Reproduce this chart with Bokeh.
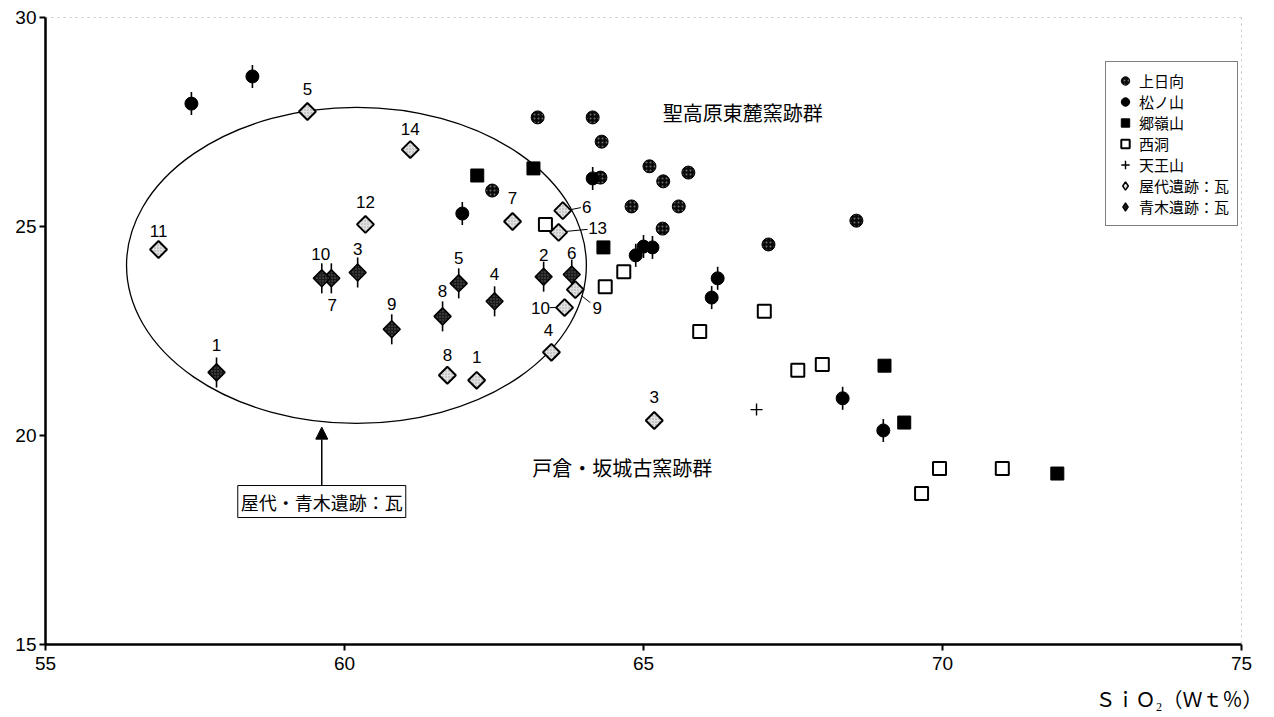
import math
from bokeh.plotting import figure
from bokeh.models import (ColumnDataSource, Range1d, FixedTicker, Legend, LegendItem,
                          Label, Arrow, NormalHead, Span, Title)
from bokeh.embed import file_html
from bokeh.resources import INLINE
from bokeh.core.properties import value

# ---------------- data ----------------
kamihinata_x = [63.23, 64.15, 64.30, 64.28, 65.10, 65.33, 65.75, 62.47, 64.80, 65.59, 65.32, 67.09, 68.56]
kamihinata_y = [27.61, 27.61, 27.03, 26.17, 26.44, 26.08, 26.29, 25.86, 25.48, 25.48, 24.95, 24.57, 25.14]

matsunoyama_x = [57.44, 58.46, 61.97, 64.15, 64.87, 65.00, 65.15, 66.24, 66.14, 68.33, 69.01]
matsunoyama_y = [27.94, 28.59, 25.31, 26.15, 24.31, 24.52, 24.50, 23.76, 23.30, 20.89, 20.12]

goreizan_x = [62.22, 63.16, 64.33, 69.03, 69.36, 71.92]
goreizan_y = [26.22, 26.39, 24.50, 21.67, 20.31, 19.09]

nishibora_x = [63.36, 64.36, 64.67, 65.94, 67.02, 67.58, 67.99, 69.95, 71.00, 69.65]
nishibora_y = [25.05, 23.56, 23.92, 22.49, 22.97, 21.56, 21.70, 19.21, 19.21, 18.61]

tennozan_x = [66.89]
tennozan_y = [20.62]

yashiro_no = ["1", "3", "4", "5", "6", "7", "8", "9", "10", "11", "12", "13", "14"]
yashiro_x = [62.21, 65.18, 63.46, 59.38, 63.65, 62.81, 61.72, 63.86, 63.68, 56.89, 60.35, 63.58, 61.10]
yashiro_y = [21.32, 20.36, 21.99, 27.75, 25.38, 25.12, 21.44, 23.49, 23.06, 24.45, 25.05, 24.86, 26.84]

aoki_no = ["1", "2", "3", "4", "5", "6", "7", "8", "9", "10"]
aoki_x = [57.86, 63.33, 60.22, 62.51, 61.91, 63.80, 59.78, 61.64, 60.79, 59.62]
aoki_y = [21.51, 23.80, 23.90, 23.21, 23.64, 23.85, 23.76, 22.85, 22.54, 23.76]

series_names = ["上日向", "松ノ山", "郷嶺山", "西洞", "天王山", "屋代遺跡：瓦", "青木遺跡：瓦"]

# group annotations
group_ellipse_x = [60.20]
group_ellipse_y = [24.07]
group_ellipse_w = 7.69
group_ellipse_h = 7.56
group_note = "屋代・青木遺跡：瓦"
group_note_x = 59.62
group_note_y = 18.42
arrow_x = 59.62
arrow_y0 = 18.72
arrow_y1 = 20.20
region_upper = "聖高原東麓窯跡群"
region_upper_xy = (65.32, 27.73)
region_lower = "戸倉・坂城古窯跡群"
region_lower_xy = (63.14, 19.23)

# label layout (pixel offsets, screen y downward)
yashiro_dx = [0, 0, -3, 0, 24, 0, 0, 22, -24, 0, 0, 39, 0]
yashiro_dy = [-23, -23, -22, -23, -4, -23, -20, 18, 0, -18, -22, -4, -21]
aoki_dx = [0, 0, 0, 0, 0, 0, 1, 0, 0, -1]
aoki_dy = [-27, -22, -23, -27, -25, -22, 27, -25, -25, -24]
leaders = {"6": ((8, -1), (18, -3)), "13": ((8, -1), (29, -3)),
           "9": ((6, 6), (15, 13)), "10": ((-8, 0), (-15, 0))}

# ---------------- figure ----------------
X0, X1, Y0, Y1 = 55, 75, 15, 30
FW, FH = 1196, 627
p = figure(frame_width=FW, frame_height=FH, x_range=Range1d(X0, X1), y_range=Range1d(Y0, Y1),
           output_backend="svg", toolbar_location=None,
           min_border_left=45, min_border_right=25, min_border_top=17, min_border_bottom=30)
p.outline_line_color = None
p.xgrid.visible = False
p.ygrid.visible = False
p.background_fill_color = "white"
p.border_fill_color = "white"

for ax, ticks in ((p.xaxis, [55, 60, 65, 70, 75]), (p.yaxis, [15, 20, 25, 30])):
    ax.ticker = FixedTicker(ticks=ticks)
    ax.axis_line_width = 2.5
    ax.axis_line_color = "black"
    ax.major_tick_line_width = 2
    ax.major_tick_out = 6
    ax.major_tick_in = 0
    ax.minor_tick_line_color = None
    ax.major_label_text_font = "Liberation Sans"
    ax.major_label_text_font_size = "19px"
    ax.major_label_text_color = "black"
p.xaxis.major_label_standoff = 6
p.yaxis.major_label_standoff = 3

p.add_layout(Span(location=Y1, dimension="width", line_color="#888888", line_dash="dotted", line_width=1))
p.add_layout(Span(location=X1, dimension="height", line_color="#888888", line_dash="dotted", line_width=1))

pxu = FW / (X1 - X0)
pyu = FH / (Y1 - Y0)

# ellipse around Yashiro/Aoki
p.ellipse(x=group_ellipse_x, y=group_ellipse_y, width=group_ellipse_w, height=group_ellipse_h,
          fill_color=None, line_color="black", line_width=1.3)

# series
r_kami = p.scatter(kamihinata_x, kamihinata_y, marker="circle", size=13, fill_color="#0a0a0a",
                   line_color="black", line_width=1, hatch_pattern="dot", hatch_color="#6e6e6e",
                   hatch_scale=4, hatch_weight=1)
r_matsu_line = p.scatter(matsunoyama_x, matsunoyama_y, marker="dash", size=23, angle=math.pi / 2,
                         line_color="black", line_width=1.6)
r_matsu = p.scatter(matsunoyama_x, matsunoyama_y, marker="circle", size=13, fill_color="black",
                    line_color="black")
r_gore = p.scatter(goreizan_x, goreizan_y, marker="square", size=13, fill_color="black",
                   line_color="black")
r_nishi = p.scatter(nishibora_x, nishibora_y, marker="square", size=13, fill_color="white",
                    line_color="black", line_width=2)
r_tenno = p.scatter(tennozan_x, tennozan_y, marker="cross", size=12, line_color="black", line_width=1.4)

ysrc = ColumnDataSource(dict(x=yashiro_x, y=yashiro_y, t=yashiro_no, dx=yashiro_dx, dy=yashiro_dy))
asrc = ColumnDataSource(dict(x=aoki_x, y=aoki_y, t=aoki_no, dx=aoki_dx, dy=aoki_dy))

r_aoki_line = p.scatter("x", "y", source=asrc, marker="dash", size=30, angle=math.pi / 2,
                        line_color="black", line_width=1.6)
r_aoki = p.scatter("x", "y", source=asrc, marker="square", size=12, angle=math.pi / 4,
                   fill_color="#1a1a1a", line_color="black", line_width=1.5,
                   hatch_pattern="dot", hatch_color="#666666", hatch_scale=3, hatch_weight=1)
r_yashiro = p.scatter("x", "y", source=ysrc, marker="square", size=12, angle=math.pi / 4,
                      fill_color="#e2e2e2", line_color="black", line_width=2,
                      hatch_pattern="dot", hatch_color="#9a9a9a", hatch_scale=3, hatch_weight=1)

# leader lines for some Yashiro labels
lx0, ly0, lx1, ly1 = [], [], [], []
for t, x, y in zip(yashiro_no, yashiro_x, yashiro_y):
    if t in leaders:
        (a, b), (c, d) = leaders[t]
        lx0.append(x + a / pxu); ly0.append(y - b / pyu)
        lx1.append(x + c / pxu); ly1.append(y - d / pyu)
p.segment(lx0, ly0, lx1, ly1, line_color="black", line_width=1)

for src in (ysrc, asrc):
    p.text("x", "y", text="t", source=src, x_offset="dx", y_offset="dy",
           text_align="center", text_baseline="middle", text_font=value("Liberation Sans"),
           text_font_size="17px", text_color="black")

# region labels
for txt, (tx, ty) in ((region_upper, region_upper_xy), (region_lower, region_lower_xy)):
    p.add_layout(Label(x=tx, y=ty, text=txt, text_align="left", text_baseline="middle",
                       text_font="Noto Sans CJK JP", text_font_size="20px", text_color="black"))

# arrow + boxed note
p.add_layout(Arrow(end=NormalHead(size=12, fill_color="black", line_color="black", line_width=1),
                   x_start=arrow_x, y_start=arrow_y0, x_end=arrow_x, y_end=arrow_y1,
                   line_color="black", line_width=1.5))
p.add_layout(Label(x=group_note_x, y=group_note_y, text=group_note, text_align="center",
                   text_baseline="middle", text_font="Noto Sans CJK JP", text_font_size="18px",
                   text_color="black", border_line_color="black", border_line_width=1,
                   background_fill_color="white", padding=3))

# legend proxies for diamonds (legend draws markers un-rotated)
nan = float("nan")
r_y_proxy = p.scatter([nan], [nan], marker="diamond", size=12, fill_color="#e2e2e2",
                      line_color="black", line_width=1.5)
r_a_proxy = p.scatter([nan], [nan], marker="diamond", size=12, fill_color="#1a1a1a",
                      line_color="black", line_width=1.2)

legend = Legend(items=[
    LegendItem(label=series_names[0], renderers=[r_kami]),
    LegendItem(label=series_names[1], renderers=[r_matsu]),
    LegendItem(label=series_names[2], renderers=[r_gore]),
    LegendItem(label=series_names[3], renderers=[r_nishi]),
    LegendItem(label=series_names[4], renderers=[r_tenno]),
    LegendItem(label=series_names[5], renderers=[r_y_proxy]),
    LegendItem(label=series_names[6], renderers=[r_a_proxy]),
], location=(1060, 418))
legend.label_text_font = "Noto Sans CJK JP"
legend.label_text_font_size = "15px"
legend.label_text_color = "black"
legend.glyph_height = 21
legend.glyph_width = 22
legend.label_height = 21
legend.spacing = 0
legend.padding = 8
legend.margin = 0
legend.label_standoff = 3
legend.border_line_color = "black"
legend.border_line_width = 1
legend.background_fill_color = "white"
legend.background_fill_alpha = 1
p.add_layout(legend)

p.add_layout(Title(text="ＳｉＯ₂（Ｗｔ％）", align="right", text_font="Noto Sans CJK JP",
                   text_font_size="20px", text_font_style="normal", text_color="black",
                   offset=-21, standoff=19), "below")

open("out.html", "w").write(file_html(p, INLINE))
